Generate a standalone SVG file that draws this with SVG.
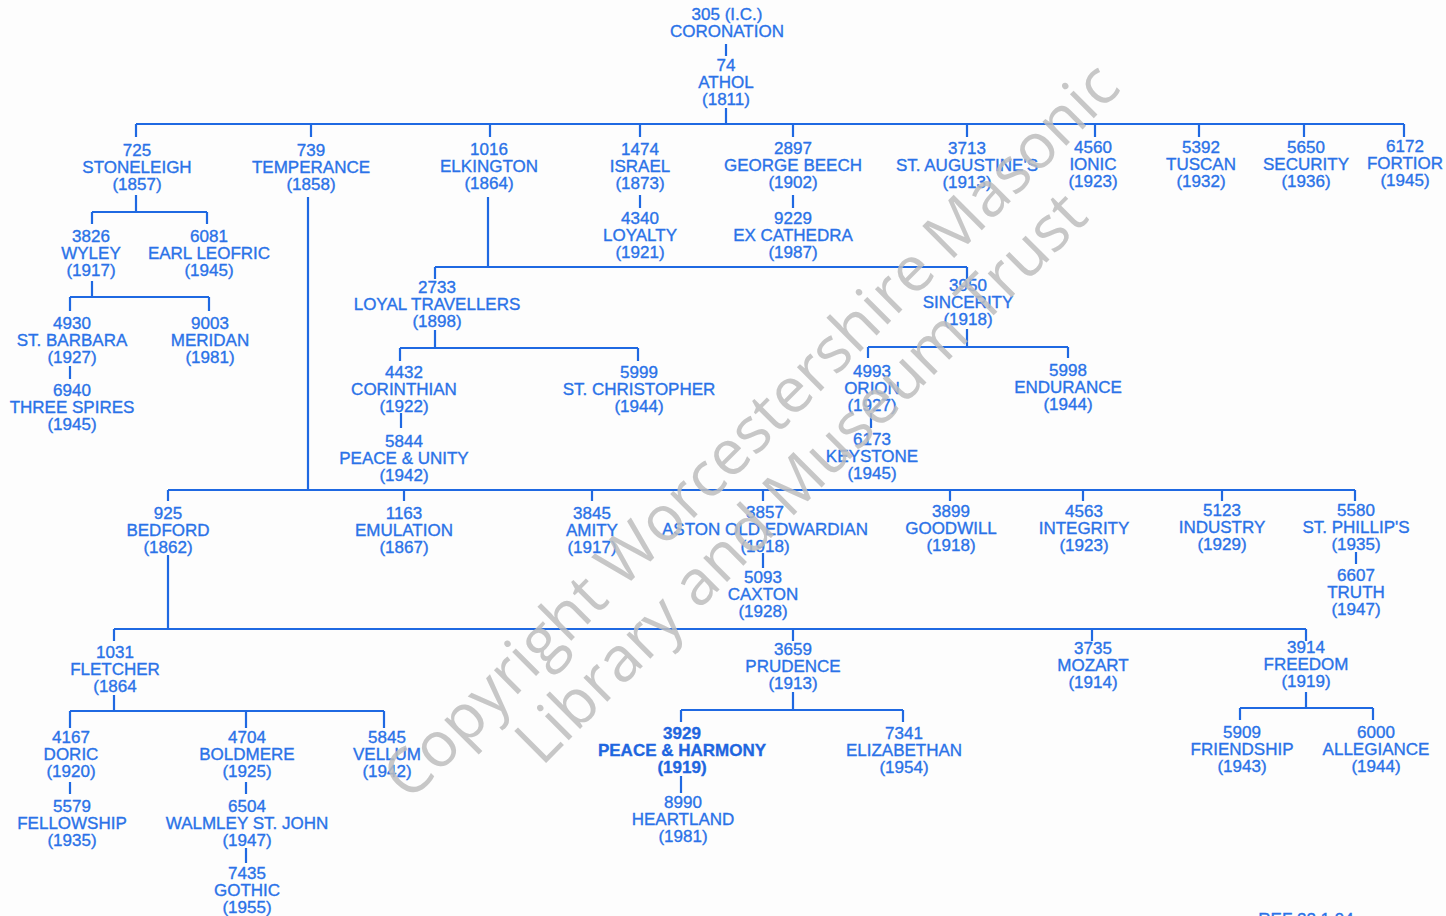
<svg xmlns="http://www.w3.org/2000/svg" width="1446" height="916" viewBox="0 0 1446 916">
<style>
.t{font-family:"Liberation Sans",Arial,sans-serif;font-size:17px;fill:#2a72e8;stroke:#2a72e8;stroke-width:0.35;text-anchor:middle}
.b{font-weight:bold;fill:#1f66e0;stroke:#1f66e0}
.c{stroke:#1f69e2;stroke-width:2.2;fill:none}
.wm{font-family:"Open Sans","Noto Sans",sans-serif;font-size:63px;fill:#bdbdbd;fill-opacity:0.85;text-anchor:middle}
</style>
<rect width="1446" height="916" fill="#fdfdfd"/>
<g id="connectors" class="c">
<path d="M726 44V56"/>
<path d="M726 108V124M136 124H1404M136 124V137M311 124V137M490 124V137M640 124V137M793 124V137M967 124V137M1095 124V137M1199 124V137M1304 124V137M1404 124V137"/>
<path d="M136 195V212M92 212H207M92 212V224M207 212V224"/>
<path d="M92 281V297M70 297H209M70 297V311M209 297V311"/>
<path d="M70 366V379"/>
<path d="M640 195V208M793 195V208"/>
<path d="M308 197V490"/>
<path d="M488 197V267M435 267H967M435 267V279M967 267V279"/>
<path d="M435 330V348M400 348H638M400 348V361M638 348V361M401 413V428"/>
<path d="M967 329V347M868 347H1068M868 347V358M1068 347V358M871 413V428"/>
<path d="M168 490H1355M168 490V501M404 490V501M592 490V501M763 490V501M950 490V501M1083 490V501M1222 490V501M1355 490V501"/>
<path d="M763 553V568M1356 552V564"/>
<path d="M168 555V629M114 629H1306M114 629V641M793 629V641M1092 629V641M1306 629V641"/>
<path d="M114 695V711M70 711H384M70 711V728M246 711V728M384 711V728M70 782V794M246 782V794M246 848V863"/>
<path d="M793 692V710M681 710H903M681 710V722M903 710V722M681 776V793"/>
<path d="M1306 692V708M1240 708H1373M1240 708V720M1373 708V720"/>
</g>
<g id="n305"><text class="t" x="727" y="20">305 (I.C.)<tspan x="727" dy="16.5">CORONATION</tspan></text></g>
<g id="n74"><text class="t" x="726" y="71">74<tspan x="726" dy="17">ATHOL</tspan><tspan x="726" dy="17">(1811)</tspan></text></g>
<g id="n725"><text class="t" x="137" y="156">725<tspan x="137" dy="17">STONELEIGH</tspan><tspan x="137" dy="17">(1857)</tspan></text></g>
<g id="n739"><text class="t" x="311" y="156">739<tspan x="311" dy="17">TEMPERANCE</tspan><tspan x="311" dy="17">(1858)</tspan></text></g>
<g id="n1016"><text class="t" x="489" y="155">1016<tspan x="489" dy="17">ELKINGTON</tspan><tspan x="489" dy="17">(1864)</tspan></text></g>
<g id="n1474"><text class="t" x="640" y="155">1474<tspan x="640" dy="17">ISRAEL</tspan><tspan x="640" dy="17">(1873)</tspan></text></g>
<g id="n2897"><text class="t" x="793" y="154">2897<tspan x="793" dy="17">GEORGE BEECH</tspan><tspan x="793" dy="17">(1902)</tspan></text></g>
<g id="n3713"><text class="t" x="967" y="154">3713<tspan x="967" dy="17">ST. AUGUSTINE'S</tspan><tspan x="967" dy="17">(1913)</tspan></text></g>
<g id="n4560"><text class="t" x="1093" y="153">4560<tspan x="1093" dy="17">IONIC</tspan><tspan x="1093" dy="17">(1923)</tspan></text></g>
<g id="n5392"><text class="t" x="1201" y="153">5392<tspan x="1201" dy="17">TUSCAN</tspan><tspan x="1201" dy="17">(1932)</tspan></text></g>
<g id="n5650"><text class="t" x="1306" y="153">5650<tspan x="1306" dy="17">SECURITY</tspan><tspan x="1306" dy="17">(1936)</tspan></text></g>
<g id="n6172"><text class="t" x="1405" y="152">6172<tspan x="1405" dy="17">FORTIOR</tspan><tspan x="1405" dy="17">(1945)</tspan></text></g>
<g id="n3826"><text class="t" x="91" y="242">3826<tspan x="91" dy="17">WYLEY</tspan><tspan x="91" dy="17">(1917)</tspan></text></g>
<g id="n6081"><text class="t" x="209" y="242">6081<tspan x="209" dy="17">EARL LEOFRIC</tspan><tspan x="209" dy="17">(1945)</tspan></text></g>
<g id="n4930"><text class="t" x="72" y="329">4930<tspan x="72" dy="17">ST. BARBARA</tspan><tspan x="72" dy="17">(1927)</tspan></text></g>
<g id="n9003"><text class="t" x="210" y="329">9003<tspan x="210" dy="17">MERIDAN</tspan><tspan x="210" dy="17">(1981)</tspan></text></g>
<g id="n6940"><text class="t" x="72" y="396">6940<tspan x="72" dy="17">THREE SPIRES</tspan><tspan x="72" dy="17">(1945)</tspan></text></g>
<g id="n4340"><text class="t" x="640" y="224">4340<tspan x="640" dy="17">LOYALTY</tspan><tspan x="640" dy="17">(1921)</tspan></text></g>
<g id="n9229"><text class="t" x="793" y="224">9229<tspan x="793" dy="17">EX CATHEDRA</tspan><tspan x="793" dy="17">(1987)</tspan></text></g>
<g id="n2733"><text class="t" x="437" y="293">2733<tspan x="437" dy="17">LOYAL TRAVELLERS</tspan><tspan x="437" dy="17">(1898)</tspan></text></g>
<g id="n3950"><text class="t" x="968" y="291">3950<tspan x="968" dy="17">SINCERITY</tspan><tspan x="968" dy="17">(1918)</tspan></text></g>
<g id="n4432"><text class="t" x="404" y="378">4432<tspan x="404" dy="17">CORINTHIAN</tspan><tspan x="404" dy="17">(1922)</tspan></text></g>
<g id="n5999"><text class="t" x="639" y="378">5999<tspan x="639" dy="17">ST. CHRISTOPHER</tspan><tspan x="639" dy="17">(1944)</tspan></text></g>
<g id="n5844"><text class="t" x="404" y="447">5844<tspan x="404" dy="17">PEACE &amp; UNITY</tspan><tspan x="404" dy="17">(1942)</tspan></text></g>
<g id="n4993"><text class="t" x="872" y="377">4993<tspan x="872" dy="17">ORION</tspan><tspan x="872" dy="17">(1927)</tspan></text></g>
<g id="n5998"><text class="t" x="1068" y="376">5998<tspan x="1068" dy="17">ENDURANCE</tspan><tspan x="1068" dy="17">(1944)</tspan></text></g>
<g id="n6173"><text class="t" x="872" y="445">6173<tspan x="872" dy="17">KEYSTONE</tspan><tspan x="872" dy="17">(1945)</tspan></text></g>
<g id="n925"><text class="t" x="168" y="519">925<tspan x="168" dy="17">BEDFORD</tspan><tspan x="168" dy="17">(1862)</tspan></text></g>
<g id="n1163"><text class="t" x="404" y="519">1163<tspan x="404" dy="17">EMULATION</tspan><tspan x="404" dy="17">(1867)</tspan></text></g>
<g id="n3845"><text class="t" x="592" y="519">3845<tspan x="592" dy="17">AMITY</tspan><tspan x="592" dy="17">(1917)</tspan></text></g>
<g id="n3857"><text class="t" x="765" y="518">3857<tspan x="765" dy="17">ASTON OLD EDWARDIAN</tspan><tspan x="765" dy="17">(1918)</tspan></text></g>
<g id="n3899"><text class="t" x="951" y="517">3899<tspan x="951" dy="17">GOODWILL</tspan><tspan x="951" dy="17">(1918)</tspan></text></g>
<g id="n4563"><text class="t" x="1084" y="517">4563<tspan x="1084" dy="17">INTEGRITY</tspan><tspan x="1084" dy="17">(1923)</tspan></text></g>
<g id="n5123"><text class="t" x="1222" y="516">5123<tspan x="1222" dy="17">INDUSTRY</tspan><tspan x="1222" dy="17">(1929)</tspan></text></g>
<g id="n5580"><text class="t" x="1356" y="516">5580<tspan x="1356" dy="17">ST. PHILLIP'S</tspan><tspan x="1356" dy="17">(1935)</tspan></text></g>
<g id="n5093"><text class="t" x="763" y="583">5093<tspan x="763" dy="17">CAXTON</tspan><tspan x="763" dy="17">(1928)</tspan></text></g>
<g id="n6607"><text class="t" x="1356" y="581">6607<tspan x="1356" dy="17">TRUTH</tspan><tspan x="1356" dy="17">(1947)</tspan></text></g>
<g id="n1031"><text class="t" x="115" y="658">1031<tspan x="115" dy="17">FLETCHER</tspan><tspan x="115" dy="17">(1864</tspan></text></g>
<g id="n3659"><text class="t" x="793" y="655">3659<tspan x="793" dy="17">PRUDENCE</tspan><tspan x="793" dy="17">(1913)</tspan></text></g>
<g id="n3735"><text class="t" x="1093" y="654">3735<tspan x="1093" dy="17">MOZART</tspan><tspan x="1093" dy="17">(1914)</tspan></text></g>
<g id="n3914"><text class="t" x="1306" y="653">3914<tspan x="1306" dy="17">FREEDOM</tspan><tspan x="1306" dy="17">(1919)</tspan></text></g>
<g id="n4167"><text class="t" x="71" y="743">4167<tspan x="71" dy="17">DORIC</tspan><tspan x="71" dy="17">(1920)</tspan></text></g>
<g id="n4704"><text class="t" x="247" y="743">4704<tspan x="247" dy="17">BOLDMERE</tspan><tspan x="247" dy="17">(1925)</tspan></text></g>
<g id="n5845"><text class="t" x="387" y="743">5845<tspan x="387" dy="17">VELLUM</tspan><tspan x="387" dy="17">(1942)</tspan></text></g>
<g id="n5579"><text class="t" x="72" y="812">5579<tspan x="72" dy="17">FELLOWSHIP</tspan><tspan x="72" dy="17">(1935)</tspan></text></g>
<g id="n6504"><text class="t" x="247" y="812">6504<tspan x="247" dy="17">WALMLEY ST. JOHN</tspan><tspan x="247" dy="17">(1947)</tspan></text></g>
<g id="n7435"><text class="t" x="247" y="879">7435<tspan x="247" dy="17">GOTHIC</tspan><tspan x="247" dy="17">(1955)</tspan></text></g>
<g id="n3929"><text class="t b" x="682" y="739">3929<tspan x="682" dy="17">PEACE &amp; HARMONY</tspan><tspan x="682" dy="17">(1919)</tspan></text></g>
<g id="n7341"><text class="t" x="904" y="739">7341<tspan x="904" dy="17">ELIZABETHAN</tspan><tspan x="904" dy="17">(1954)</tspan></text></g>
<g id="n8990"><text class="t" x="683" y="808">8990<tspan x="683" dy="17">HEARTLAND</tspan><tspan x="683" dy="17">(1981)</tspan></text></g>
<g id="n5909"><text class="t" x="1242" y="738">5909<tspan x="1242" dy="17">FRIENDSHIP</tspan><tspan x="1242" dy="17">(1943)</tspan></text></g>
<g id="n6000"><text class="t" x="1376" y="738">6000<tspan x="1376" dy="17">ALLEGIANCE</tspan><tspan x="1376" dy="17">(1944)</tspan></text></g>
<g id="ref"><text class="t" x="1306" y="925">REF 22.1.94</text></g>
<g id="watermark">
<text class="wm" transform="translate(766,446) rotate(-45)">Copyright Worcestershire Masonic</text>
<text class="wm" transform="translate(816,493) rotate(-45)">Library and Museum Trust</text>
</g>
</svg>
